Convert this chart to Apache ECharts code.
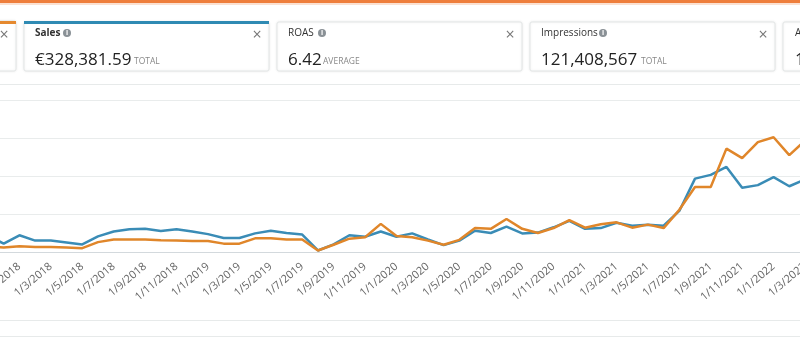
<!DOCTYPE html>
<html>
<head>
<meta charset="utf-8">
<script src="https://cdn.jsdelivr.net/npm/echarts@6/dist/echarts.min.js"></script>
<style>
html,body{margin:0;padding:0;background:#fff;}
#chart{width:800px;height:338px;}
</style>
</head>
<body>
<div id="chart"></div>
<script>
// Monthly categories (d/m/yyyy)
const categories = [
  "1/11/2017","1/12/2017",
  "1/1/2018","1/2/2018","1/3/2018","1/4/2018","1/5/2018","1/6/2018","1/7/2018","1/8/2018","1/9/2018","1/10/2018","1/11/2018","1/12/2018",
  "1/1/2019","1/2/2019","1/3/2019","1/4/2019","1/5/2019","1/6/2019","1/7/2019","1/8/2019","1/9/2019","1/10/2019","1/11/2019","1/12/2019",
  "1/1/2020","1/2/2020","1/3/2020","1/4/2020","1/5/2020","1/6/2020","1/7/2020","1/8/2020","1/9/2020","1/10/2020","1/11/2020","1/12/2020",
  "1/1/2021","1/2/2021","1/3/2021","1/4/2021","1/5/2021","1/6/2021","1/7/2021","1/8/2021","1/9/2021","1/10/2021","1/11/2021","1/12/2021",
  "1/1/2022","1/2/2022","1/3/2022"
];
// Sales (blue) – relative units (y-axis labels are not visible in the reference)
const salesValues = [
  0.43,0.22,
  0.44,0.30,0.30,0.25,0.20,0.41,0.54,0.60,0.61,0.55,0.60,0.54,
  0.47,0.37,0.37,0.49,0.56,0.50,0.46,0.04,0.20,0.44,0.40,0.54,
  0.40,0.49,0.33,0.18,0.30,0.56,0.50,0.67,0.49,0.51,0.65,0.82,
  0.61,0.63,0.77,0.69,0.72,0.69,1.08,1.93,2.03,2.24,1.69,1.76,
  1.97,1.73,1.91
];
// Spend (orange) – relative units
const spendValues = [
  0.13,0.12,
  0.15,0.13,0.13,0.12,0.10,0.26,0.33,0.33,0.33,0.31,0.30,0.29,
  0.29,0.22,0.22,0.36,0.36,0.33,0.33,0.04,0.19,0.35,0.39,0.74,
  0.42,0.39,0.30,0.19,0.32,0.63,0.61,0.87,0.61,0.50,0.63,0.84,
  0.64,0.73,0.78,0.64,0.72,0.63,1.11,1.71,1.71,2.72,2.47,2.89,
  3.02,2.55,2.93
];
// Metric cards
const cardTitles = ["Sales","ROAS","Impressions"];
const cardValues = ["€328,381.59","6.42","121,408,567"];
const cardUnits = ["TOTAL","AVERAGE","TOTAL"];

const BLUE = '#3a8cb6';
const ORANGE = '#e0862a';
const FONT = '"Open Sans", "Noto Sans", sans-serif';

const cardX = [24, 277, 530];
const cardW = 245;
const iconX = [67, 322, 603];
const unitX = [134, 323, 641];

const graphics = [];
// top orange bar
graphics.push({type:'rect', shape:{x:0,y:0,width:800,height:3}, style:{fill:'#ee7e3c'}, silent:true});
graphics.push({type:'rect', shape:{x:0,y:3,width:800,height:2}, style:{fill:'#fbe1d2'}, silent:true});
// partially visible first card
graphics.push({type:'rect', shape:{x:-20,y:21,width:36,height:50,r:2}, style:{fill:'#fff',stroke:'#e3e6e6',lineWidth:1,shadowBlur:3,shadowColor:'rgba(0,0,0,0.08)'}, silent:true});
graphics.push({type:'rect', shape:{x:-20,y:21,width:36,height:3}, style:{fill:'#e5892f'}, silent:true});
graphics.push({type:'text', style:{text:'×', x:4, y:35, font:'16px ' + FONT, fill:'#777', align:'center', verticalAlign:'middle'}, silent:true});
// last partially visible card
graphics.push({type:'rect', shape:{x:783,y:22,width:40,height:49,r:2}, style:{fill:'#fff',stroke:'#e3e6e6',lineWidth:1,shadowBlur:3,shadowColor:'rgba(0,0,0,0.08)'}, silent:true});
graphics.push({type:'text', style:{text:'A', x:795, y:33, font:'10px ' + FONT, fill:'#333', verticalAlign:'middle'}, silent:true});
graphics.push({type:'text', style:{text:'1', x:795, y:60, font:'17px ' + FONT, fill:'#222', verticalAlign:'middle'}, silent:true});

cardTitles.forEach(function(t, i){
  const x = cardX[i];
  graphics.push({type:'rect', shape:{x:x,y:22,width:cardW,height:49,r:2}, style:{fill:'#fff',stroke:'#e3e6e6',lineWidth:1,shadowBlur:3,shadowColor:'rgba(0,0,0,0.08)'}, silent:true});
  if (i === 0) {
    graphics.push({type:'rect', shape:{x:x,y:21,width:cardW,height:3}, style:{fill:'#2f8ab3'}, silent:true});
  }
  graphics.push({type:'text', style:{text:t, x:x+11, y:33, font:(i===0?'bold ':'') + '10px ' + FONT, fill:'#333', verticalAlign:'middle'}, silent:true});
  graphics.push({type:'circle', shape:{cx:iconX[i], cy:33, r:4}, style:{fill:'#8a9196'}, silent:true});
  graphics.push({type:'text', style:{text:'i', x:iconX[i], y:33, font:'bold 7px ' + FONT, fill:'#fff', align:'center', verticalAlign:'middle'}, silent:true});
  graphics.push({type:'text', style:{text:'×', x:x+cardW-12, y:35, font:'16px ' + FONT, fill:'#777', align:'center', verticalAlign:'middle'}, silent:true});
  graphics.push({type:'text', style:{text:cardValues[i], x:x+11, y:60, font:'17px ' + FONT, fill:'#222', verticalAlign:'middle'}, silent:true});
  graphics.push({type:'text', style:{text:cardUnits[i], x:unitX[i], y:62, font:'8.5px ' + FONT, fill:'#888', verticalAlign:'middle'}, silent:true});
});
// panel separator lines
graphics.push({type:'line', shape:{x1:0,y1:84.5,x2:800,y2:84.5}, style:{stroke:'#e7eaea',lineWidth:1}, silent:true});
graphics.push({type:'line', shape:{x1:0,y1:320.5,x2:800,y2:320.5}, style:{stroke:'#e7eaea',lineWidth:1}, silent:true});
graphics.push({type:'line', shape:{x1:0,y1:336.5,x2:800,y2:336.5}, style:{stroke:'#e7eaea',lineWidth:1}, silent:true});

const chart = echarts.init(document.getElementById('chart'), null, {renderer:'canvas'});
chart.setOption({
  animation:false,
  backgroundColor:'#fff',
  graphic: graphics,
  grid:{left:-12, right:-5, top:100, bottom:86, containLabel:false, outerBoundsMode:'none'},
  xAxis:{
    type:'category',
    data:categories,
    boundaryGap:false,
    axisTick:{show:false},
    axisLine:{lineStyle:{color:'#d3d9dd', width:1}},
    axisLabel:{
      rotate:40,
      margin:13,
      color:'#666',
      fontSize:11,
      fontFamily:FONT,
      interval:function(index, value){ return (parseInt(value.split('/')[1],10) % 2) === 1; }
    },
    splitLine:{show:false}
  },
  yAxis:{
    type:'value',
    min:0, max:4, interval:1,
    axisLabel:{show:false},
    axisLine:{show:false},
    axisTick:{show:false},
    splitLine:{lineStyle:{color:'#e9ecec', width:1}}
  },
  series:[
    {name:'Sales', type:'line', data:salesValues, symbol:'none', lineStyle:{color:BLUE, width:2.5}, itemStyle:{color:BLUE}, z:2},
    {name:'Spend', type:'line', data:spendValues, symbol:'none', lineStyle:{color:ORANGE, width:2.5}, itemStyle:{color:ORANGE}, z:3}
  ]
});
</script>
</body>
</html>
